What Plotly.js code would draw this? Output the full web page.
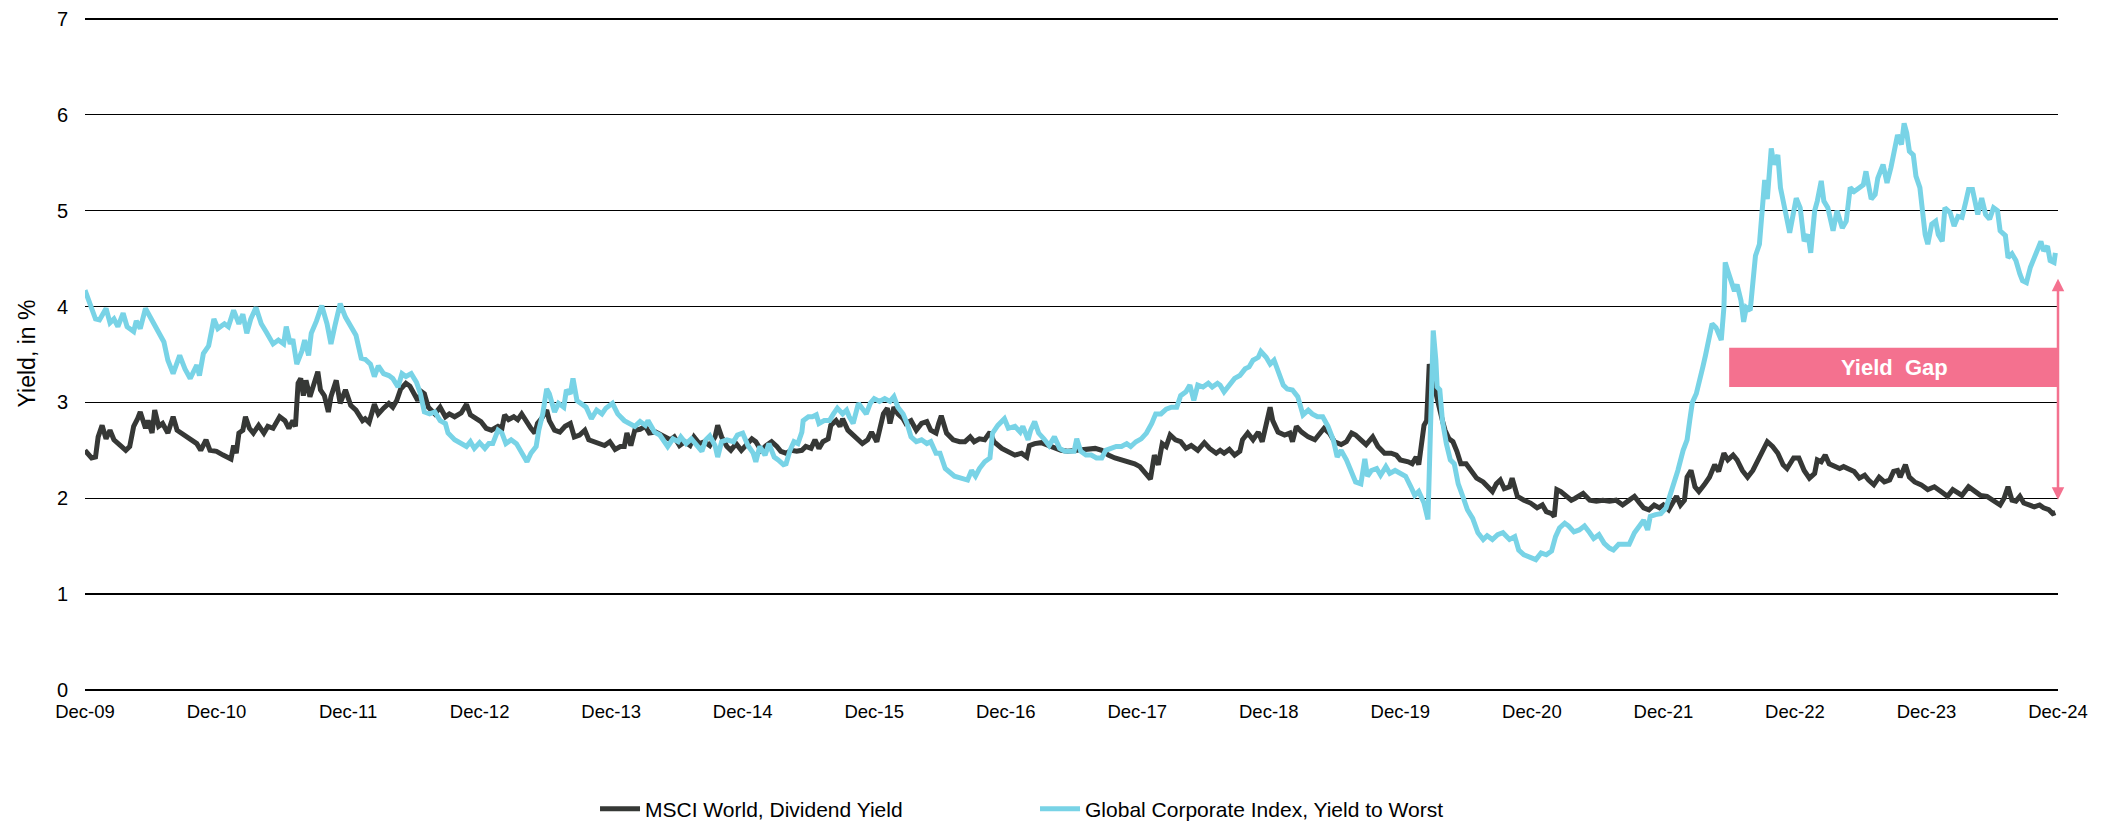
<!DOCTYPE html>
<html>
<head>
<meta charset="utf-8">
<script src="https://cdn.plot.ly/plotly-3.0.1.min.js"></script>
<style>
  html, body { margin: 0; padding: 0; background: #fff; }
  #chart { width: 2114px; height: 826px; }
</style>
</head>
<body>
<div id="chart"></div>
<script>
// x values are decimal years (2010.00 = end of Dec 2009)
var tickYears = [2010, 2011, 2012, 2013, 2014, 2015, 2016, 2017, 2018, 2019, 2020, 2021, 2022, 2023, 2024, 2025];
var tickLabels = ['Dec-09', 'Dec-10', 'Dec-11', 'Dec-12', 'Dec-13', 'Dec-14', 'Dec-15', 'Dec-16',
                  'Dec-17', 'Dec-18', 'Dec-19', 'Dec-20', 'Dec-21', 'Dec-22', 'Dec-23', 'Dec-24'];

// MSCI World, Dividend Yield
var msciPoints = [
  [2010.00,2.50],[2010.05,2.42],[2010.08,2.43],[2010.10,2.64],[2010.13,2.76],[2010.16,2.62],[2010.19,2.71],[2010.22,2.61],
  [2010.27,2.55],[2010.31,2.50],[2010.34,2.54],[2010.37,2.75],[2010.40,2.83],[2010.42,2.90],[2010.46,2.73],[2010.48,2.81],
  [2010.51,2.68],[2010.53,2.92],[2010.56,2.75],[2010.59,2.78],[2010.63,2.68],[2010.65,2.78],[2010.67,2.85],[2010.70,2.71],
  [2010.75,2.66],[2010.80,2.61],[2010.85,2.57],[2010.88,2.50],[2010.92,2.61],[2010.95,2.50],
  [2011.00,2.49],[2011.05,2.45],[2011.09,2.43],[2011.11,2.41],[2011.13,2.55],[2011.15,2.47],[2011.17,2.68],[2011.20,2.71],
  [2011.22,2.85],[2011.25,2.73],[2011.28,2.68],[2011.32,2.76],[2011.36,2.68],[2011.39,2.75],[2011.43,2.73],[2011.48,2.85],
  [2011.52,2.81],[2011.55,2.73],[2011.58,2.81],[2011.60,2.75],[2011.62,3.20],[2011.64,3.25],[2011.66,3.07],[2011.68,3.23],
  [2011.71,3.06],[2011.74,3.20],[2011.77,3.32],[2011.79,3.13],[2011.82,3.07],[2011.85,2.90],[2011.87,3.06],[2011.91,3.23],
  [2011.94,2.99],[2011.98,3.13],
  [2012.02,2.97],[2012.06,2.92],[2012.11,2.81],[2012.13,2.83],[2012.16,2.79],[2012.20,2.98],[2012.23,2.88],[2012.27,2.94],
  [2012.31,2.99],[2012.34,2.95],[2012.37,3.02],[2012.40,3.14],[2012.44,3.20],[2012.47,3.17],[2012.50,3.09],[2012.53,3.02],
  [2012.56,3.11],[2012.58,3.09],[2012.61,2.95],[2012.66,2.88],[2012.70,2.95],[2012.74,2.85],[2012.77,2.88],[2012.81,2.85],
  [2012.86,2.89],[2012.90,2.98],[2012.93,2.87],[2012.98,2.82],
  [2013.01,2.80],[2013.05,2.73],[2013.09,2.71],[2013.14,2.75],[2013.17,2.73],[2013.19,2.87],[2013.22,2.82],[2013.26,2.85],
  [2013.29,2.82],[2013.32,2.88],[2013.36,2.78],[2013.39,2.73],[2013.42,2.68],[2013.44,2.78],[2013.47,2.83],[2013.51,2.92],
  [2013.53,2.81],[2013.57,2.71],[2013.61,2.69],[2013.65,2.75],[2013.69,2.78],[2013.72,2.64],[2013.76,2.66],[2013.80,2.71],
  [2013.83,2.61],[2013.88,2.59],[2013.91,2.57],[2013.95,2.55],[2013.99,2.59],
  [2014.03,2.51],[2014.07,2.54],[2014.10,2.54],[2014.12,2.68],[2014.15,2.55],[2014.18,2.71],[2014.22,2.72],[2014.26,2.75],
  [2014.29,2.68],[2014.34,2.69],[2014.39,2.66],[2014.45,2.61],[2014.48,2.64],[2014.52,2.55],[2014.56,2.59],[2014.60,2.55],
  [2014.63,2.64],[2014.67,2.57],[2014.71,2.59],[2014.75,2.55],[2014.79,2.64],[2014.81,2.76],[2014.84,2.64],[2014.88,2.54],
  [2014.91,2.50],[2014.95,2.57],[2014.99,2.50],
  [2015.03,2.57],[2015.07,2.62],[2015.10,2.59],[2015.14,2.50],[2015.18,2.55],[2015.22,2.59],[2015.26,2.54],[2015.29,2.49],
  [2015.33,2.47],[2015.37,2.50],[2015.41,2.49],[2015.45,2.50],[2015.48,2.54],[2015.52,2.52],[2015.55,2.61],[2015.58,2.52],
  [2015.61,2.59],[2015.65,2.62],[2015.67,2.76],[2015.71,2.81],[2015.74,2.75],[2015.76,2.83],[2015.80,2.71],[2015.84,2.66],
  [2015.88,2.61],[2015.91,2.57],[2015.95,2.61],[2015.98,2.69],
  [2016.02,2.59],[2016.04,2.73],[2016.07,2.88],[2016.10,2.94],[2016.12,2.78],[2016.15,2.95],[2016.18,2.88],[2016.22,2.83],
  [2016.24,2.78],[2016.28,2.81],[2016.32,2.71],[2016.36,2.78],[2016.40,2.80],[2016.43,2.71],[2016.47,2.68],[2016.49,2.78],
  [2016.51,2.86],[2016.55,2.68],[2016.60,2.61],[2016.65,2.59],[2016.69,2.59],[2016.73,2.64],[2016.76,2.59],[2016.80,2.62],
  [2016.84,2.61],[2016.88,2.69],[2016.91,2.59],[2016.97,2.52],
  [2017.02,2.49],[2017.07,2.45],[2017.12,2.47],[2017.16,2.43],[2017.18,2.55],[2017.22,2.57],[2017.27,2.58],[2017.32,2.55],
  [2017.37,2.52],[2017.42,2.50],[2017.47,2.49],[2017.52,2.50],[2017.57,2.50],[2017.62,2.52],[2017.68,2.52],[2017.73,2.50],
  [2017.78,2.45],[2017.83,2.42],[2017.88,2.40],[2017.93,2.38],[2017.98,2.36],
  [2018.02,2.33],[2018.06,2.26],[2018.10,2.20],[2018.13,2.45],[2018.16,2.35],[2018.19,2.57],[2018.22,2.54],[2018.25,2.66],
  [2018.29,2.61],[2018.33,2.59],[2018.37,2.52],[2018.41,2.55],[2018.46,2.50],[2018.51,2.58],[2018.55,2.52],[2018.60,2.47],
  [2018.63,2.50],[2018.66,2.47],[2018.70,2.51],[2018.74,2.45],[2018.78,2.49],[2018.80,2.61],[2018.84,2.68],[2018.88,2.61],
  [2018.92,2.69],[2018.95,2.59],[2018.98,2.78],
  [2019.01,2.95],[2019.03,2.81],[2019.07,2.69],[2019.12,2.66],[2019.16,2.68],[2019.18,2.59],[2019.21,2.75],[2019.25,2.69],
  [2019.30,2.64],[2019.35,2.61],[2019.39,2.69],[2019.42,2.73],[2019.46,2.68],[2019.50,2.59],[2019.55,2.56],[2019.59,2.59],
  [2019.63,2.68],[2019.66,2.66],[2019.70,2.61],[2019.74,2.56],[2019.79,2.64],[2019.83,2.54],[2019.88,2.47],[2019.93,2.47],
  [2019.97,2.45],
  [2020.00,2.40],[2020.06,2.38],[2020.09,2.36],[2020.12,2.43],[2020.14,2.35],[2020.18,2.76],[2020.20,2.81],[2020.22,3.40],
  [2020.25,3.20],[2020.27,3.09],[2020.29,2.98],[2020.32,2.81],[2020.34,2.71],[2020.37,2.62],[2020.40,2.59],[2020.43,2.49],
  [2020.46,2.36],[2020.50,2.36],[2020.54,2.28],[2020.58,2.21],[2020.63,2.17],[2020.66,2.12],[2020.70,2.07],[2020.73,2.15],
  [2020.76,2.19],[2020.79,2.10],[2020.83,2.12],[2020.85,2.21],[2020.89,2.02],[2020.94,1.98],[2020.99,1.95],
  [2021.04,1.90],[2021.08,1.93],[2021.11,1.86],[2021.15,1.84],[2021.17,1.81],[2021.19,2.09],[2021.22,2.07],[2021.26,2.03],
  [2021.30,1.98],[2021.33,2.00],[2021.39,2.05],[2021.44,1.98],[2021.49,1.97],[2021.54,1.98],[2021.59,1.97],[2021.64,1.98],
  [2021.69,1.93],[2021.73,1.97],[2021.78,2.02],[2021.82,1.95],[2021.85,1.90],[2021.89,1.88],[2021.93,1.93],[2021.97,1.90],
  [2022.00,1.93],[2022.04,1.88],[2022.07,1.95],[2022.10,2.02],[2022.13,1.93],[2022.16,1.98],[2022.18,2.22],[2022.21,2.29],
  [2022.24,2.12],[2022.27,2.07],[2022.31,2.14],[2022.35,2.22],[2022.39,2.35],[2022.42,2.28],[2022.46,2.47],[2022.49,2.40],
  [2022.53,2.45],[2022.56,2.40],[2022.60,2.29],[2022.64,2.22],[2022.68,2.29],[2022.72,2.40],[2022.75,2.50],[2022.79,2.59],
  [2022.83,2.54],[2022.87,2.47],[2022.91,2.35],[2022.94,2.31],[2022.99,2.42],
  [2023.03,2.42],[2023.07,2.29],[2023.11,2.21],[2023.15,2.26],[2023.17,2.40],[2023.20,2.38],[2023.23,2.45],[2023.26,2.36],
  [2023.30,2.33],[2023.34,2.31],[2023.37,2.33],[2023.41,2.31],[2023.45,2.28],[2023.49,2.21],[2023.53,2.24],[2023.56,2.19],
  [2023.60,2.14],[2023.64,2.22],[2023.68,2.17],[2023.72,2.19],[2023.75,2.28],[2023.78,2.29],[2023.80,2.22],[2023.84,2.35],
  [2023.87,2.22],[2023.91,2.17],[2023.96,2.14],
  [2024.01,2.09],[2024.06,2.12],[2024.11,2.07],[2024.16,2.02],[2024.20,2.09],[2024.24,2.05],[2024.27,2.03],[2024.32,2.12],
  [2024.37,2.07],[2024.41,2.03],[2024.46,2.02],[2024.51,1.98],[2024.56,1.93],[2024.59,2.00],[2024.62,2.12],[2024.65,1.98],
  [2024.68,1.97],[2024.71,2.02],[2024.74,1.95],[2024.78,1.93],[2024.82,1.91],[2024.86,1.93],[2024.89,1.90],[2024.93,1.88],
  [2024.96,1.84],[2024.98,1.85]
];

// Global Corporate Index, Yield to Worst
var corpPoints = [
  [2010.00,4.17],[2010.05,3.96],[2010.08,3.87],[2010.11,3.86],[2010.16,3.98],[2010.19,3.83],[2010.22,3.87],[2010.25,3.79],
  [2010.29,3.93],[2010.32,3.79],[2010.37,3.74],[2010.39,3.85],[2010.42,3.77],[2010.46,3.98],[2010.51,3.85],[2010.56,3.73],
  [2010.60,3.63],[2010.63,3.44],[2010.67,3.30],[2010.72,3.49],[2010.76,3.35],[2010.80,3.25],[2010.85,3.39],[2010.87,3.28],
  [2010.90,3.51],[2010.94,3.59],[2010.98,3.87],
  [2011.01,3.77],[2011.06,3.82],[2011.09,3.79],[2011.13,3.96],[2011.17,3.82],[2011.20,3.92],[2011.23,3.72],[2011.26,3.87],
  [2011.30,3.99],[2011.34,3.82],[2011.38,3.73],[2011.43,3.61],[2011.47,3.65],[2011.51,3.61],[2011.53,3.79],[2011.56,3.61],
  [2011.58,3.66],[2011.61,3.40],[2011.65,3.54],[2011.67,3.65],[2011.70,3.49],[2011.72,3.72],[2011.76,3.85],[2011.80,4.01],
  [2011.84,3.82],[2011.87,3.61],[2011.90,3.80],[2011.94,4.03],[2011.98,3.89],
  [2012.01,3.82],[2012.06,3.70],[2012.10,3.46],[2012.13,3.45],[2012.17,3.40],[2012.20,3.27],[2012.23,3.38],[2012.27,3.30],
  [2012.31,3.28],[2012.34,3.25],[2012.38,3.16],[2012.41,3.30],[2012.44,3.27],[2012.48,3.30],[2012.52,3.21],[2012.55,3.09],
  [2012.58,2.90],[2012.62,2.88],[2012.66,2.90],[2012.70,2.81],[2012.74,2.78],[2012.76,2.68],[2012.81,2.61],[2012.86,2.57],
  [2012.90,2.54],[2012.93,2.59],[2012.96,2.52],
  [2013.00,2.58],[2013.04,2.52],[2013.07,2.57],[2013.10,2.57],[2013.14,2.71],[2013.17,2.68],[2013.20,2.57],[2013.24,2.61],
  [2013.28,2.57],[2013.31,2.49],[2013.36,2.38],[2013.39,2.47],[2013.43,2.54],[2013.45,2.71],[2013.48,2.88],[2013.51,3.14],
  [2013.53,3.09],[2013.57,2.90],[2013.60,2.99],[2013.64,2.95],[2013.66,3.13],[2013.69,3.09],[2013.71,3.25],[2013.74,3.02],
  [2013.77,2.99],[2013.81,2.95],[2013.85,2.83],[2013.89,2.92],[2013.93,2.88],[2013.96,2.94],
  [2014.01,2.99],[2014.05,2.88],[2014.10,2.81],[2014.14,2.78],[2014.18,2.75],[2014.22,2.80],[2014.26,2.76],[2014.28,2.81],
  [2014.33,2.69],[2014.37,2.66],[2014.41,2.59],[2014.43,2.54],[2014.47,2.62],[2014.51,2.59],[2014.53,2.64],[2014.57,2.57],
  [2014.61,2.62],[2014.65,2.55],[2014.69,2.49],[2014.72,2.61],[2014.75,2.65],[2014.79,2.55],[2014.81,2.43],[2014.84,2.59],
  [2014.88,2.61],[2014.93,2.59],[2014.96,2.66],
  [2015.00,2.68],[2015.04,2.55],[2015.08,2.47],[2015.10,2.38],[2015.13,2.54],[2015.17,2.45],[2015.20,2.57],[2015.24,2.43],
  [2015.27,2.40],[2015.31,2.35],[2015.33,2.36],[2015.36,2.50],[2015.39,2.59],[2015.42,2.57],[2015.45,2.69],[2015.46,2.81],
  [2015.50,2.85],[2015.53,2.85],[2015.56,2.87],[2015.58,2.78],[2015.62,2.81],[2015.66,2.81],[2015.69,2.88],[2015.72,2.94],
  [2015.76,2.88],[2015.79,2.92],[2015.81,2.85],[2015.84,2.78],[2015.88,2.99],[2015.91,2.94],[2015.94,2.88],[2015.97,2.99],
  [2016.00,3.04],[2016.04,3.01],[2016.08,3.04],[2016.12,3.01],[2016.15,3.06],[2016.18,2.95],[2016.22,2.88],[2016.25,2.78],
  [2016.28,2.64],[2016.32,2.59],[2016.36,2.61],[2016.40,2.57],[2016.43,2.59],[2016.47,2.47],[2016.50,2.47],[2016.54,2.31],
  [2016.57,2.28],[2016.61,2.23],[2016.66,2.21],[2016.71,2.19],[2016.74,2.29],[2016.77,2.23],[2016.80,2.31],[2016.84,2.38],
  [2016.88,2.42],[2016.90,2.68],[2016.94,2.76],[2016.99,2.83],
  [2017.02,2.73],[2017.07,2.75],[2017.11,2.69],[2017.13,2.75],[2017.17,2.61],[2017.19,2.71],[2017.22,2.80],[2017.25,2.68],
  [2017.29,2.62],[2017.33,2.55],[2017.37,2.64],[2017.41,2.52],[2017.45,2.49],[2017.49,2.49],[2017.52,2.49],[2017.54,2.62],
  [2017.57,2.49],[2017.61,2.45],[2017.65,2.45],[2017.69,2.42],[2017.73,2.42],[2017.76,2.50],[2017.80,2.52],[2017.84,2.54],
  [2017.88,2.54],[2017.92,2.57],[2017.95,2.54],[2017.99,2.59],
  [2018.03,2.62],[2018.07,2.68],[2018.11,2.78],[2018.14,2.88],[2018.18,2.88],[2018.22,2.93],[2018.26,2.95],[2018.30,2.95],
  [2018.33,3.07],[2018.37,3.11],[2018.40,3.18],[2018.43,3.02],[2018.46,3.18],[2018.50,3.16],[2018.54,3.20],[2018.57,3.16],
  [2018.61,3.20],[2018.63,3.18],[2018.66,3.11],[2018.70,3.18],[2018.74,3.25],[2018.78,3.28],[2018.82,3.35],[2018.85,3.37],
  [2018.88,3.44],[2018.92,3.47],[2018.94,3.53],[2018.98,3.47],
  [2019.01,3.40],[2019.04,3.44],[2019.07,3.33],[2019.11,3.18],[2019.14,3.14],[2019.18,3.13],[2019.22,3.06],[2019.26,2.87],
  [2019.30,2.92],[2019.33,2.88],[2019.37,2.85],[2019.41,2.85],[2019.45,2.75],[2019.49,2.61],[2019.52,2.43],[2019.55,2.50],
  [2019.59,2.40],[2019.63,2.26],[2019.66,2.17],[2019.70,2.15],[2019.73,2.41],[2019.75,2.23],[2019.78,2.29],[2019.82,2.31],
  [2019.85,2.24],[2019.89,2.33],[2019.92,2.26],[2019.96,2.29],
  [2020.00,2.26],[2020.04,2.23],[2020.08,2.12],[2020.11,2.03],[2020.14,2.07],[2020.18,1.95],[2020.21,1.78],[2020.23,2.75],
  [2020.25,3.75],[2020.27,3.44],[2020.28,3.16],[2020.30,3.13],[2020.32,2.81],[2020.35,2.57],[2020.38,2.40],[2020.41,2.36],
  [2020.44,2.15],[2020.48,2.00],[2020.51,1.88],[2020.55,1.79],[2020.59,1.64],[2020.63,1.57],[2020.66,1.61],[2020.70,1.57],
  [2020.74,1.62],[2020.78,1.64],[2020.83,1.57],[2020.87,1.60],[2020.90,1.46],[2020.94,1.41],[2020.99,1.38],
  [2021.03,1.36],[2021.07,1.43],[2021.11,1.41],[2021.15,1.45],[2021.18,1.60],[2021.21,1.69],[2021.25,1.74],[2021.28,1.71],
  [2021.32,1.65],[2021.36,1.67],[2021.40,1.71],[2021.44,1.64],[2021.47,1.58],[2021.51,1.62],[2021.55,1.53],[2021.59,1.48],
  [2021.62,1.46],[2021.66,1.52],[2021.70,1.52],[2021.74,1.52],[2021.78,1.64],[2021.82,1.72],[2021.85,1.77],[2021.88,1.67],
  [2021.90,1.81],[2021.94,1.83],[2021.98,1.84],
  [2022.02,1.90],[2022.05,2.02],[2022.08,2.16],[2022.11,2.29],[2022.15,2.50],[2022.18,2.61],[2022.20,2.81],[2022.22,3.00],
  [2022.25,3.09],[2022.27,3.19],[2022.30,3.37],[2022.32,3.49],[2022.35,3.68],[2022.37,3.82],[2022.40,3.78],[2022.42,3.71],
  [2022.44,3.65],[2022.46,3.99],[2022.47,4.46],[2022.49,4.37],[2022.51,4.27],[2022.54,4.16],[2022.56,4.23],[2022.59,4.06],
  [2022.61,3.84],[2022.63,3.99],[2022.66,3.96],[2022.68,4.27],[2022.70,4.53],[2022.73,4.65],[2022.75,4.94],[2022.77,5.32],
  [2022.79,5.12],[2022.82,5.65],[2022.84,5.48],[2022.87,5.58],[2022.89,5.24],[2022.92,5.03],[2022.96,4.77],
  [2023.01,5.13],[2023.04,5.03],[2023.07,4.68],[2023.10,4.75],[2023.12,4.56],[2023.15,5.00],[2023.17,5.10],[2023.20,5.31],
  [2023.22,5.10],[2023.25,5.03],[2023.29,4.79],[2023.32,5.00],[2023.36,4.82],[2023.39,4.89],[2023.42,5.24],[2023.45,5.20],
  [2023.49,5.24],[2023.52,5.27],[2023.54,5.41],[2023.58,5.12],[2023.61,5.17],[2023.63,5.34],[2023.67,5.48],[2023.70,5.29],
  [2023.73,5.45],[2023.76,5.64],[2023.78,5.79],[2023.81,5.69],[2023.83,5.91],[2023.85,5.81],[2023.87,5.62],[2023.90,5.58],
  [2023.92,5.36],[2023.95,5.24],[2023.97,5.03],[2023.99,4.75],
  [2024.01,4.65],[2024.04,4.86],[2024.07,4.89],[2024.09,4.75],[2024.12,4.68],[2024.14,5.03],[2024.18,4.98],[2024.21,4.84],
  [2024.24,4.94],[2024.27,4.93],[2024.30,5.10],[2024.32,5.22],[2024.35,5.22],[2024.39,4.96],[2024.42,5.13],[2024.45,4.96],
  [2024.48,4.91],[2024.51,5.03],[2024.54,5.00],[2024.56,4.79],[2024.60,4.74],[2024.62,4.51],[2024.65,4.55],[2024.68,4.48],
  [2024.71,4.34],[2024.73,4.27],[2024.76,4.25],[2024.79,4.41],[2024.82,4.51],[2024.85,4.61],[2024.87,4.68],[2024.89,4.58],
  [2024.92,4.63],[2024.94,4.48],[2024.97,4.46],[2024.98,4.56]
];

// yield gap marker: box band and arrow ends (in yield %)
var gapBox = { x0: 2022.50, x1: 2025.02, y0: 3.16, y1: 3.57 };
var gapArrow = { x: 2025.0, top: 4.29, bottom: 1.97 };

var font = 'Liberation Sans, Arial, Helvetica, sans-serif';
var pink = '#F4718F';

var traces = [
  {
    x: msciPoints.map(function (p) { return p[0]; }),
    y: msciPoints.map(function (p) { return p[1]; }),
    type: 'scatter',
    mode: 'lines',
    name: 'MSCI World, Dividend Yield',
    line: { color: '#363836', width: 5 },
    hoverinfo: 'skip'
  },
  {
    x: corpPoints.map(function (p) { return p[0]; }),
    y: corpPoints.map(function (p) { return p[1]; }),
    type: 'scatter',
    mode: 'lines',
    name: 'Global Corporate Index, Yield to Worst',
    line: { color: '#78D3E6', width: 5 },
    hoverinfo: 'skip'
  }
];

var layout = {
  width: 2114,
  height: 826,
  margin: { l: 85, r: 56, t: 17, b: 136, autoexpand: false },
  paper_bgcolor: '#fff',
  plot_bgcolor: '#fff',
  font: { family: font, size: 18, color: '#000' },
  showlegend: true,
  legend: {
    orientation: 'h',
    x: 0.2585,
    xanchor: 'left',
    y: -0.177,
    yanchor: 'middle',
    entrywidth: 385,
    itemwidth: 40,
    font: { family: font, size: 21, color: '#000' },
    bgcolor: 'rgba(0,0,0,0)'
  },
  xaxis: {
    range: [2010, 2025],
    tickmode: 'array',
    tickvals: tickYears,
    ticktext: tickLabels,
    showgrid: false,
    zeroline: false,
    showline: false,
    ticks: '',
    automargin: false,
    ticklabelstandoff: 8,
    tickfont: { family: font, size: 18.5, color: '#000' },
    fixedrange: true
  },
  yaxis: {
    range: [0, 7.02],
    dtick: 1,
    tick0: 0,
    showgrid: true,
    gridcolor: '#000',
    gridwidth: 1.4,
    zeroline: true,
    zerolinecolor: '#000',
    zerolinewidth: 1.4,
    showline: false,
    ticks: '',
    automargin: false,
    ticklabelstandoff: 16,
    tickfont: { family: font, size: 20, color: '#000' },
    title: { text: 'Yield, in %', font: { family: font, size: 23, color: '#000' }, standoff: 14 },
    fixedrange: true
  },
  shapes: [{
    type: 'rect',
    xref: 'x', yref: 'y',
    x0: gapBox.x0, x1: gapBox.x1, y0: gapBox.y0, y1: gapBox.y1,
    fillcolor: pink,
    line: { width: 0 },
    layer: 'above'
  }],
  annotations: [
    {
      xref: 'x', yref: 'y',
      x: (gapBox.x0 + gapBox.x1) / 2,
      y: (gapBox.y0 + gapBox.y1) / 2,
      text: '<b>Yield  Gap</b>',
      showarrow: false,
      font: { family: font, size: 22, color: '#fff' }
    },
    {
      xref: 'x', yref: 'y', axref: 'x', ayref: 'y',
      x: gapArrow.x, y: gapArrow.top,
      ax: gapArrow.x, ay: gapArrow.bottom,
      text: '',
      showarrow: true,
      arrowside: 'end+start',
      arrowhead: 2,
      arrowsize: 1,
      arrowwidth: 2.5,
      arrowcolor: pink
    }
  ]
};

Plotly.newPlot('chart', traces, layout, { displayModeBar: false, staticPlot: true });
</script>
</body>
</html>
